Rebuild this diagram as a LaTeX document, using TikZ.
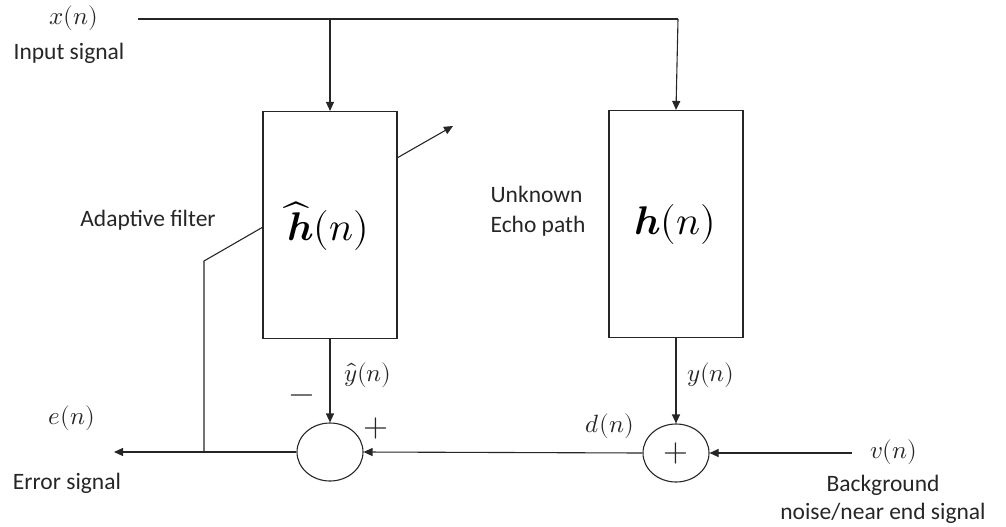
\documentclass[tikz,border=0pt]{standalone}
\usepackage{fontspec}
\usepackage{unicode-math}
\setmainfont{Carlito}
\setmathfont{Latin Modern Math}
\usetikzlibrary{arrows.meta,shapes.geometric}
\begin{document}
\begin{tikzpicture}[x=1pt,y=-1pt,
  line width=1.1pt, draw=black!85,
  arr/.style={-{Triangle[length=9pt,width=8pt]}},
  blk/.style={draw, minimum width=134pt, minimum height=227pt, inner sep=0pt},
  sumc/.style={draw, ellipse, minimum width=66pt, minimum height=58pt, inner sep=0pt},
  lbl/.style={font=\fontsize{23.5}{28}\selectfont, text=black!85},
  mlbl/.style={font=\fontsize{25}{28}\selectfont, text=black!85},
  big/.style={font=\fontsize{40}{44}\selectfont},
  sgn/.style={font=\fontsize{32}{36}\selectfont, text=black!85}]
\useasboundingbox (0,0) rectangle (1006,527);
% blocks
\node[blk] (b1) at (330,225) {};
\node[blk] (b2) at (676,224) {};
\node[big] (hh) at (328,226) {$\widehat{\symbfit{h}}(n)$};
\node[big] (h) at (675,224) {$\symbfit{h}(n)$};
% summers
\node[sumc] (s1) at (330,452) {};
\node[sumc] (s2) at (676,453) {};
\node[sgn] (sp) at (s2.center) {$+$};
% input line
\coordinate (xin) at (138,19);
\coordinate (br1) at (330,19);
\coordinate (br2) at (678,19);
\draw (xin) -- (br2);
\draw[arr] (br1) -- (b1.north);
\draw[arr] (br2) -- (b2.north);
% outputs
\draw[arr] (b1.south) -- (s1.north);
\draw[arr] (b2.south) -- (s2.north);
% d(n) to s1
\draw[arr] (s2.west) -- (s1.east);
% v(n)
\coordinate (vin) at (852,453);
\draw[arr] (vin) -- (s2.east);
% error out
\coordinate (eout) at (114,452);
\coordinate (tap) at (204,452);
\draw[arr] (s1.west) -- (eout);
% adaptation line
\coordinate (knee) at (204,261);
\coordinate (ain) at (263,227);
\draw (tap) -- (knee) -- (ain);
% adjustable arrow
\coordinate (adj0) at (397,158);
\coordinate (adj1) at (453,126);
\draw[arr] (adj0) -- (adj1);
% labels
\node[mlbl] (lx) at (74,18) {$x(n)$};
\node[lbl] (lin) at (69,53) {Input signal};
\node[lbl] (lad) at (148,220) {Adaptive filter};
\node[lbl, align=left, font=\fontsize{23.5}{30}\selectfont] (lun) at (538,211) {Unknown\\Echo path};
\node[mlbl] (lyh) at (368,375) {$\hat{y}(n)$};
\node[mlbl] (ly) at (711,375) {$y(n)$};
\node[mlbl] (le) at (72,418) {$e(n)$};
\node[lbl] (ler) at (67,483) {Error signal};
\node[mlbl] (ld) at (610,426) {$d(n)$};
\node[mlbl] (lv) at (894,452) {$v(n)$};
\node[lbl, align=center] (lbg) at (883,499) {Background\\noise/near end signal};
\node[sgn] (mn) at (302,399) {$-$};
\node[sgn] (pl) at (376,428) {$+$};
\end{tikzpicture}
\end{document}
